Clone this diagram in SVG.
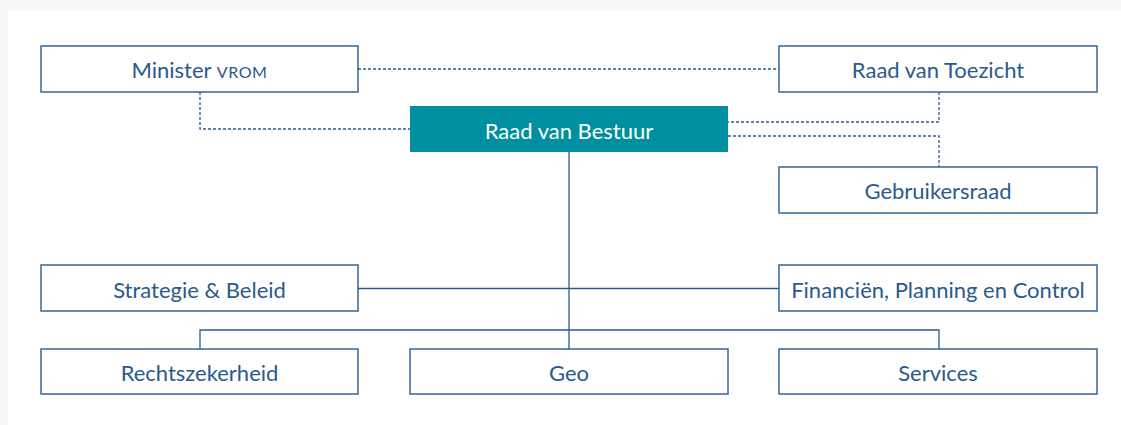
<svg xmlns="http://www.w3.org/2000/svg" width="1121" height="425" viewBox="0 0 1121 425">
<style>
.box{fill:#ffffff;stroke:#2a5b91;stroke-width:1.4}
.main{fill:#008f9f;stroke:none}
.t{font-family:Lato,"Open Sans","Liberation Sans",sans-serif;font-size:22px;fill:#2a5a8c;text-anchor:middle;font-weight:400}
.tw{fill:#ffffff}
.sc{font-size:16px;letter-spacing:0.6px}
.solid{fill:none;stroke:#2a5b91;stroke-width:1.3}
.dot{fill:none;stroke:#2a5b91;stroke-width:1.3;stroke-dasharray:3 2}
</style>
<rect x="0" y="0" width="1121" height="425" fill="#f7f7f7"/>
<rect x="8" y="10" width="1113" height="415" fill="#ffffff"/>
<g id="connectors">
<polyline class="dot" points="358,69 779,69"/>
<polyline class="dot" points="200,92 200,129 410,129"/>
<polyline class="dot" points="939,92 939,122 728,122"/>
<polyline class="dot" points="728,136 939,136 939,167"/>
<polyline class="solid" points="569,152 569,349"/>
<polyline class="solid" points="358,288.5 779,288.5"/>
<polyline class="solid" points="200,349 200,330 939,330 939,349"/>
</g>
<g id="minister"><rect class="box" x="41" y="46" width="317" height="46"/><text class="t" x="199.5" y="78">Minister <tspan class="sc">VROM</tspan></text></g>
<g id="rvt"><rect class="box" x="779" y="46" width="318" height="46"/><text class="t" x="938" y="78">Raad van Toezicht</text></g>
<g id="rvb"><rect class="main" x="410" y="106" width="318" height="46"/><text class="t tw" x="569" y="139">Raad van Bestuur</text></g>
<g id="gebruikersraad"><rect class="box" x="779" y="167" width="318" height="46"/><text class="t" x="938" y="199">Gebruikersraad</text></g>
<g id="strategie"><rect class="box" x="41" y="265" width="317" height="46"/><text class="t" x="199.5" y="298">Strategie &amp; Beleid</text></g>
<g id="financien"><rect class="box" x="779" y="265" width="318" height="46"/><text class="t" x="938" y="298">Financiën, Planning en Control</text></g>
<g id="rechtszekerheid"><rect class="box" x="41" y="349" width="317" height="45"/><text class="t" x="199.5" y="381">Rechtszekerheid</text></g>
<g id="geo"><rect class="box" x="410" y="349" width="318" height="45"/><text class="t" x="569" y="381">Geo</text></g>
<g id="services"><rect class="box" x="779" y="349" width="318" height="45"/><text class="t" x="938" y="381">Services</text></g>
</svg>
